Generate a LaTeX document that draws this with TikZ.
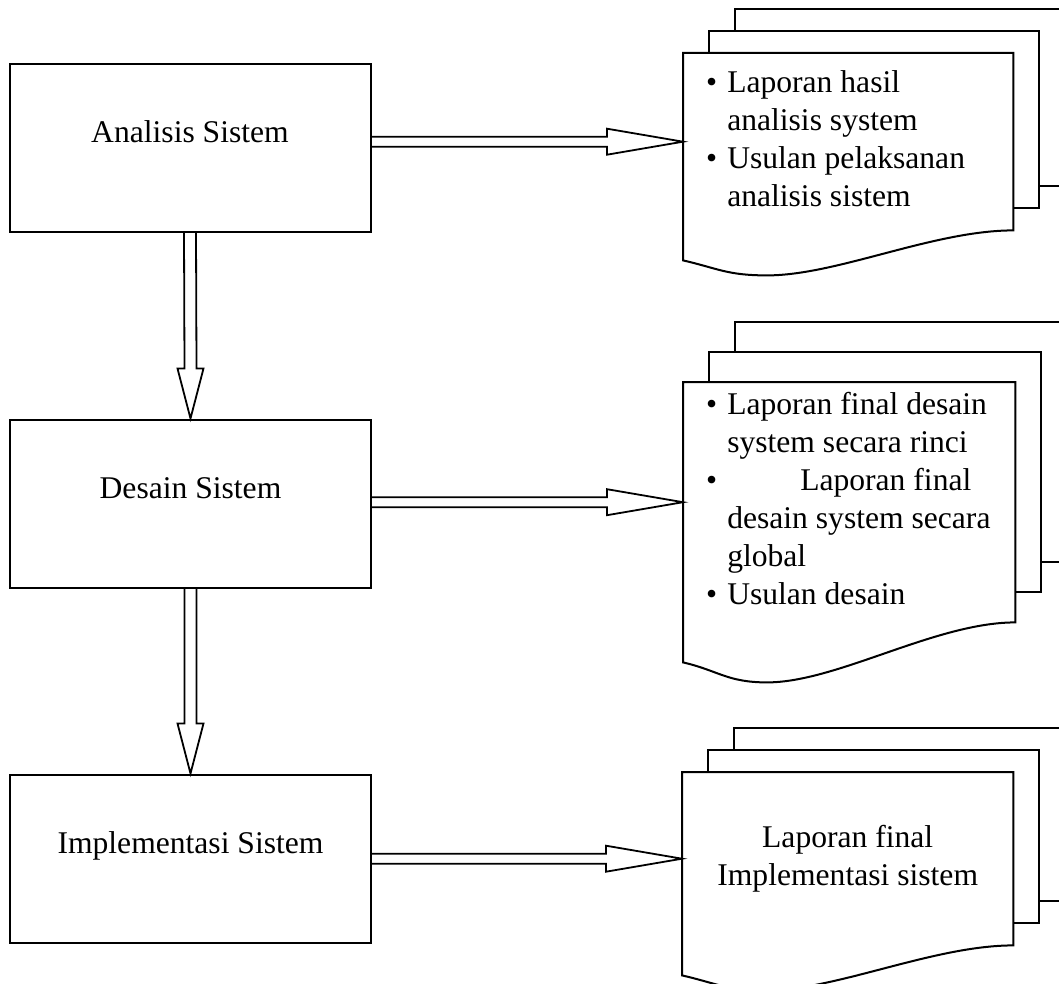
\documentclass[tikz,border=0pt]{standalone}
\usepackage{fontspec}
\setmainfont{Liberation Serif}
\usetikzlibrary{calc}

\tikzset{
  stage/.style={draw, line width=2pt, minimum width=361pt, minimum height=168pt,
    text height=20pt, text depth=30pt, inner sep=0pt},
  pagearea/.style={inner sep=0pt, anchor=north west},
  page/.style={draw, line width=2pt, fill=white, line join=miter},
  blockarrow/.style={line width=1.8pt, line join=miter},
  report/.style={inner sep=0pt, anchor=west},
}

% three stacked sheets behind a named page area: #2 = shift up, #3 = wave depth
\newcommand{\pagestack}[3]{%
  \draw[page] ($(#1.north west)+(52,{-2*#2})$) rectangle ($(#1.south east)+(52,{-2*#2})$);
  \draw[page] ($(#1.north west)+(26,-#2)$) rectangle ($(#1.south east)+(26,-#2)$);
  \draw[page] ($(#1.south west)+(0,#3)$) -- (#1.north west) -- (#1.north east) -- (#1.south east)
    .. controls +(-80,0) and +(70,0) .. ($(#1.south west)+(84,{1.5*#3})$)
    .. controls +(-40,0) and +(35,8) .. ($(#1.south west)+(0,#3)$) -- cycle;
}
% hollow arrow from a stage to its report
\newcommand{\toreport}[2]{%
  \draw[blockarrow] ($(#1.east |- #2.west)+(0,-5)$) -- ($(#2.west)+(-76,-5)$) -- ++(0,-8)
    -- (#2.west) -- ($(#2.west)+(-76,13)$) -- ++(0,-8) -- ($(#1.east |- #2.west)+(0,5)$);
}
% hollow arrow from one stage down to the next
\newcommand{\tostage}[2]{%
  \draw[blockarrow] ($(#1.south)+(-6,0)$) -- ($(#2.north)+(-6,-50)$) -- ++(-7,0)
    -- (#2.north) -- ($(#2.north)+(13,-50)$) -- ++(-7,0) -- ($(#1.south)+(6,0)$);
}

\begin{document}
\begin{tikzpicture}[x=1pt, y=-1pt, font=\fontsize{31.6}{38}\selectfont]
  \useasboundingbox (0,0) rectangle (1059,984);
  \clip (0,0) rectangle (1059,984);

  % stages
  \node[stage] (analisis) at (190,148) {Analisis Sistem};
  \node[stage] (desain) at (190.5,503.5) {Desain Sistem};
  \node[stage] (implementasi) at (190.5,858.5) {Implementasi Sistem};

  % reports
  \node[pagearea, minimum width=330pt, minimum height=177pt] (lapA) at (683,53) {};
  \node[pagearea, minimum width=332pt, minimum height=240pt] (lapB) at (683,382) {};
  \node[pagearea, minimum width=331pt, minimum height=173pt] (lapC) at (682,772) {};
  \pagestack{lapA}{22}{30}
  \pagestack{lapB}{30}{40}
  \pagestack{lapC}{22}{30}

  \node[report] (lapAtext) at ($(lapA.west)+(23,0)$) {%
    \begin{tabular}{@{}l@{\hspace{10pt}}l@{}}
      \textbullet & Laporan hasil\\
                  & analisis system\\
      \textbullet & Usulan pelaksanan\\
                  & analisis sistem
    \end{tabular}};
  \node[report] (lapBtext) at ($(lapB.west)+(23,0)$) {%
    \begin{tabular}{@{}l@{\hspace{10pt}}l@{}}
      \textbullet & Laporan final desain\\
                  & system secara rinci\\
      \textbullet & \hspace*{73pt}Laporan final\\
                  & desain system secara\\
                  & global\\
      \textbullet & Usulan desain
    \end{tabular}};
  \node[report, anchor=center] (lapCtext) at (lapC.center) {%
    \begin{tabular}{@{}c@{}}
      Laporan final\\
      Implementasi sistem
    \end{tabular}};

  % arrows
  \toreport{analisis}{lapA}
  \toreport{desain}{lapB}
  \toreport{implementasi}{lapC}
  \tostage{analisis}{desain}
  \tostage{desain}{implementasi}
\end{tikzpicture}
\end{document}
